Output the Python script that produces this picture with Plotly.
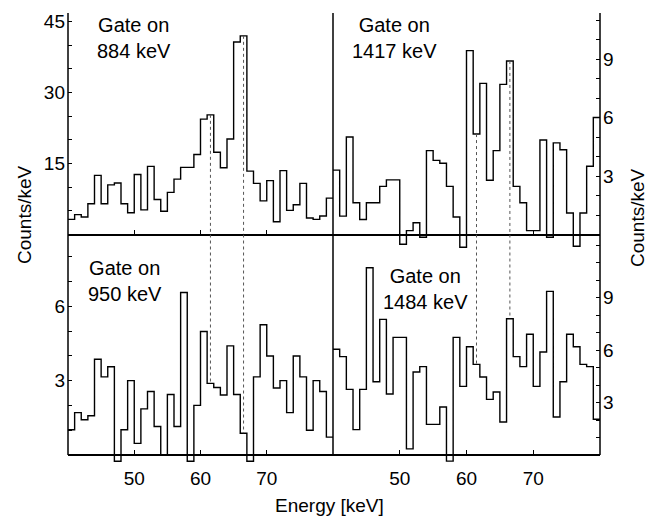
import plotly.graph_objects as go

# ---------------- data ----------------
edges = list(range(40, 81))  # bin edges (keV), 1 keV bins

gate_884 = [3.2, 4.2, 3.7, 6.5, 12.5, 6.5, 10.5, 10.9, 6.5, 4.6,
            12.7, 5.2, 14.4, 7.4, 4.9, 8.9, 11.7, 14.2, 14.2, 16.9,
            24.4, 25.3, 17.4, 14.1, 20.2, 40.7, 42.0, 13.4, 10.8, 7.1,
            11.4, 2.7, 13.5, 5.1, 6.3, 10.8, 3.5, 3.2, 3.9, 7.7]

gate_1417 = [3.3, 0.94, 5.0, 1.63, 0.77, 1.63, 1.63, 2.47, 2.8, 2.8,
             -0.5, 0.2, 0.6, -0.14, 4.3, 3.8, 3.65, 2.47, 0.9, -0.65,
             9.43, 5.15, 7.75, 2.78, 4.3, 7.7, 8.9, 2.47, 1.63, 0.2,
             0.2, 4.85, -0.14, 4.7, 4.35, 1.1, -0.6, 1.1, 3.5, 6.0]

gate_950 = [1.02, 1.71, 1.42, 1.58, 3.86, 3.15, 3.56, -0.25, 1.02, 3.0,
            0.47, 1.86, 2.56, 1.15, 0.0, 2.44, 1.15, 6.55, -0.25, 2.0,
            4.98, 2.89, 2.72, 2.42, 4.4, 2.44, 0.88, -0.25, 3.15, 5.25,
            3.99, 2.7, 3.0, 1.71, 3.99, 3.15, 1.0, 3.0, 2.56, 0.72]

gate_1484 = [6.04, 5.62, 3.75, 1.45, 3.75, 10.7, 4.19, 7.75, 3.49, 6.72,
             6.72, 0.35, 4.74, 5.05, 1.75, 1.75, 2.74, -0.35, 6.72, 3.92,
             6.19, 5.18, 4.46, 3.18, 3.6, 1.89, 7.79, 5.62, 5.05, 6.9,
             3.92, 5.89, 9.35, 2.17, 4.19, 6.9, 6.19, 5.18, 5.05, 2.04]

gate_lines = [61.5, 66.5]           # dotted guide lines (keV)
gate_labels = ["Gate on<br>884 keV", "Gate on<br>1417 keV",
               "Gate on<br>950 keV", "Gate on<br>1484 keV"]

x_ticks = [50, 60, 70]
major_tl, minor_tl = [15, 30, 45], [5, 10, 20, 25, 35, 40]
major_tr, minor_tr = [3, 6, 9], [1, 2, 4, 5, 7, 8, 10, 11]
major_bl, minor_bl = [3, 6], [1, 2, 4, 5, 7, 8]
major_br, minor_br = [3, 6, 9], [1, 2, 4, 5, 7, 8, 10, 11, 12]

# ---------------- geometry (pixels) ----------------
W, H = 658, 517
L, R, T, B = 68, 600, 13, 466
MID = 333
Z_TOP, Z_BOT = 234.5, 455


def fx(px):
    return (px - L) / (R - L)


def fy(py):
    return (B - py) / (B - T)


FONT = "Liberation Sans, Arial, sans-serif"
FS = 19

panels = [
    dict(d=gate_884, xl=L, xr=MID, yt=T, yb=Z_TOP, z=Z_TOP, ppc=4.73, side="left",
         major=major_tl, minor=minor_tl, lab=False),
    dict(d=gate_1417, xl=MID, xr=R, yt=T, yb=250, z=Z_TOP, ppc=19.5, side="right",
         major=major_tr, minor=minor_tr, lab=False),
    dict(d=gate_950, xl=L, xr=MID, yt=Z_TOP, yb=B, z=Z_BOT, ppc=24.8, side="left",
         major=major_bl, minor=minor_bl, lab=True),
    dict(d=gate_1484, xl=MID, xr=R, yt=Z_TOP, yb=B, z=Z_BOT, ppc=17.5, side="right",
         major=major_br, minor=minor_br, lab=True),
]

fig = go.Figure()
layout = {}
for i, p in enumerate(panels, start=1):
    sx = "" if i == 1 else str(i)
    r1 = (p["z"] - p["yt"]) / p["ppc"]
    r0 = -(p["yb"] - p["z"]) / p["ppc"]
    p["r"] = (r0, r1)
    fig.add_trace(go.Scatter(
        x=edges, y=p["d"] + [p["d"][-1]], mode="lines", line_shape="hv",
        line=dict(color="black", width=1.4), xaxis="x" + sx, yaxis="y" + sx,
        showlegend=False, hoverinfo="skip"))
    layout["xaxis" + sx] = dict(
        domain=[fx(p["xl"]), fx(p["xr"])], range=[40, 80], anchor="free",
        position=fy(p["z"]), showline=True, linecolor="black", linewidth=1.5,
        ticks="inside", ticklen=4, tickwidth=1.2, tickcolor="black",
        tickmode="array", tickvals=x_ticks, showticklabels=p["lab"],
        ticklabelstandoff=6,
        showgrid=False, zeroline=False,
        tickfont=dict(family=FONT, size=FS, color="black"))
    layout["yaxis" + sx] = dict(
        domain=[fy(p["yb"]), fy(p["yt"])], range=[r0, r1], anchor="x" + sx,
        side=p["side"], showline=False, ticks="inside", ticklen=4,
        tickwidth=1.2, tickcolor="black", tickmode="array", tickvals=p["major"],
        minor=dict(tickmode="array", tickvals=p["minor"], ticks="inside",
                   ticklen=4, tickwidth=1.2, tickcolor="black"),
        ticklabelstandoff=2,
        showgrid=False, zeroline=False,
        tickfont=dict(family=FONT, size=FS, color="black"))

# dotted guide lines crossing top and bottom panels
for top_i, bot_i in [(0, 2), (1, 3)]:
    pt, pb = panels[top_i], panels[bot_i]
    st = "" if top_i == 0 else str(top_i + 1)
    sb = str(bot_i + 1)
    for g in gate_lines:
        k = int(g - edges[0])
        fig.add_trace(go.Scatter(
            x=[g, g], y=[pt["d"][k], 0], mode="lines",
            line=dict(color="#555555", width=1, dash="dot"),
            xaxis="x" + st, yaxis="y" + st, showlegend=False, hoverinfo="skip"))
        fig.add_trace(go.Scatter(
            x=[g, g], y=[pb["r"][1], pb["d"][k]], mode="lines",
            line=dict(color="#555555", width=1, dash="dot"),
            xaxis="x" + sb, yaxis="y" + sb, showlegend=False, hoverinfo="skip"))

# frame lines (vertical borders)
shapes = []
for xp in [fx(L), fx(MID), fx(R)]:
    shapes.append(dict(type="line", xref="paper", yref="paper",
                       x0=xp, x1=xp, y0=fy(Z_BOT), y1=1,
                       line=dict(color="black", width=1.5)))

ann_pos = [(133.5, 38), (394.5, 38), (125, 281), (425, 288.5)]
annotations = []
for txt, (ax, ay) in zip(gate_labels, ann_pos):
    annotations.append(dict(text=txt, x=fx(ax), y=fy(ay), xref="paper", yref="paper",
                            showarrow=False, xanchor="center", yanchor="middle",
                            align="center", font=dict(family=FONT, size=FS + 1, color="black")))
annotations.append(dict(text="Counts/keV", x=fx(25), y=fy(215), xref="paper", yref="paper",
                        showarrow=False, textangle=-90, xanchor="center", yanchor="middle",
                        font=dict(family=FONT, size=FS, color="black")))
annotations.append(dict(text="Counts/keV", x=fx(637), y=fy(218), xref="paper", yref="paper",
                        showarrow=False, textangle=-90, xanchor="center", yanchor="middle",
                        font=dict(family=FONT, size=FS, color="black")))
annotations.append(dict(text="Energy [keV]", x=fx(329), y=fy(505), xref="paper", yref="paper",
                        showarrow=False, xanchor="center", yanchor="middle",
                        font=dict(family=FONT, size=FS, color="black")))

fig.update_layout(
    width=W, height=H, autosize=False,
    margin=dict(l=L, r=W - R, t=T, b=H - B, pad=0),
    paper_bgcolor="white", plot_bgcolor="rgba(0,0,0,0)",
    shapes=shapes, annotations=annotations, showlegend=False,
    **layout)

fig.write_html("out.html")
